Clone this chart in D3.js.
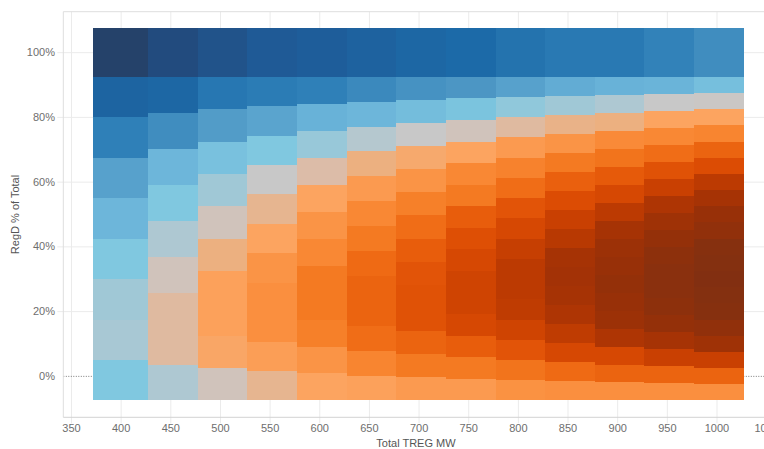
<!DOCTYPE html>
<html>
<head>
<meta charset="utf-8">
<script src="https://cdn.jsdelivr.net/npm/d3@7/dist/d3.min.js"></script>
<style>
  body { margin: 0; background: #fff; }
  text { font-family: "Liberation Sans", Arial, sans-serif; }
</style>
</head>
<body>
<div id="chart"></div>
<script>
// Total TREG MW columns; each column has RegD rows from 0 up to the total, 50 MW apart
const tregMW = [400, 450, 500, 550, 600, 650, 700, 750, 800, 850, 900, 950, 1000];
const regdStepMW = 50;

// colour value of each cell, bottom row (RegD = 0 MW) first
const score400 = [-1, -0.5, -0.6, -1, -1.8, -2.6, -4, -5.4, -8];
const score450 = [-0.4, 0.6, 0.6, 0.2, -0.4, -1, -1.8, -3.4, -5.2, -7];
const score500 = [0.2, 1.4, 1.6, 1.6, 1.0, 0.2, -0.6, -1.3, -2.8, -4.4, -6.5];
const score550 = [0.8, 1.7, 2.2, 2.2, 2.0, 1.5, 0.8, 0, -1, -2.5, -4.2, -6];
const score600 = [1.5, 2.0, 2.8, 3.0, 3.0, 2.5, 2.0, 1.5, 0.5, -0.7, -2, -4, -5.8];
const score650 = [1.6, 2.6, 3.4, 3.7, 3.7, 3.5, 3.0, 2.5, 1.8, 1.0, -0.3, -1.8, -3.6, -5.5];
const score700 = [1.8, 3.0, 3.7, 4.3, 4.3, 4.2, 3.9, 3.4, 2.8, 2.0, 1.3, 0, -1.5, -3.2, -5.2];
const score750 = [1.8, 3.0, 3.9, 4.7, 4.9, 4.9, 4.7, 4.4, 3.9, 3.0, 2.5, 1.5, 0.2, -1.2, -3, -5];
const score800 = [2.1, 3.2, 4.2, 4.9, 5.4, 5.5, 5.5, 5.2, 4.7, 4.2, 3.4, 2.7, 1.8, 0.6, -0.8, -2.6, -4.6];
const score850 = [2.2, 3.5, 4.7, 5.4, 5.9, 6.1, 6.2, 6.1, 5.6, 5.1, 4.5, 3.8, 3.0, 2.0, 0.9, -0.6, -2.2, -4.3];
const score900 = [2.2, 3.7, 4.7, 5.9, 6.4, 6.5, 6.6, 6.5, 6.4, 6.1, 5.5, 4.7, 4.0, 3.2, 2.4, 1.0, -0.4, -2.0, -4.3];
const score950 = [2.2, 3.7, 5.1, 6.1, 6.6, 6.8, 6.9, 6.9, 6.8, 6.6, 6.3, 5.9, 5.1, 4.3, 3.4, 2.5, 1.5, 0, -1.9, -3.9];
const score1000 = [2.2, 3.7, 5.1, 6.3, 6.7, 7.0, 7.1, 7.2, 7.1, 7.0, 6.7, 6.5, 6.1, 5.5, 4.5, 3.7, 2.6, 1.5, 0.05, -1.4, -3.4];
const scores = [score400, score450, score500, score550, score600, score650, score700,
  score750, score800, score850, score900, score950, score1000];

const xTicks = [350, 400, 450, 500, 550, 600, 650, 700, 750, 800, 850, 900, 950, 1000, 1050];
const yTicks = [0, 20, 40, 60, 80, 100];

// orange-blue diverging palette
const scoreStops = [-8, -7, -6, -5, -4, -3, -2, -1, -0.5, 0, 0.5, 1, 1.5, 2, 2.5, 3, 3.5, 4, 4.5, 5, 5.5, 6, 6.5, 7, 7.5];
const scoreColors = ["#25426a", "#224b7e", "#1f5a96", "#1c6aa8", "#2f80b8", "#4c96c4", "#68b2d8", "#80c8e0",
  "#a8c8d4", "#c8c8c8", "#dcbca8", "#ecb080", "#fca460", "#fa9446", "#f98834", "#f47a22", "#ef6a14",
  "#e65a0a", "#dc4c04", "#cc4202", "#bc3a02", "#aa3404", "#983008", "#86300f", "#7c2e14"];

const W = 764, H = 449;
const plot = { left: 63.3, right: 772.6, top: 11.7, bottom: 417.3 };
const halfW = 27.5;   // MW
const halfH = 7.6;    // % points

const svg = d3.select("#chart").append("svg")
  .attr("width", W)
  .attr("height", H);

const x = d3.scaleLinear().domain([342.25, 1056.5]).range([plot.left, plot.right]);
const y = d3.scaleLinear().domain([-12.8, 112.5]).range([plot.bottom, plot.top]);
const color = d3.scaleLinear().domain(scoreStops).range(scoreColors).clamp(true);

// grid + axes (behind marks)
const xAxis = svg.append("g")
  .attr("transform", `translate(0,${plot.bottom})`)
  .call(d3.axisBottom(x).tickValues(xTicks).tickFormat(d3.format("d"))
    .tickSize(-(plot.bottom - plot.top)).tickSizeOuter(0).tickPadding(7));
xAxis.select(".domain").remove();
xAxis.selectAll(".tick line").attr("y1", 6).attr("stroke", "#ebebeb");
xAxis.selectAll(".tick text").attr("fill", "#6e6e6e").style("font-size", "11px");

const yAxis = svg.append("g")
  .attr("transform", `translate(${plot.left},0)`)
  .call(d3.axisLeft(y).tickValues(yTicks).tickFormat(d => d + "%")
    .tickSize(-(plot.right - plot.left)).tickSizeOuter(0).tickPadding(8.3));
yAxis.select(".domain").remove();
yAxis.selectAll(".tick line").attr("x1", -6).attr("stroke", "#ebebeb");
yAxis.selectAll(".tick text").attr("fill", "#6e6e6e").style("font-size", "11px");
yAxis.selectAll(".tick").filter(d => d === 0).select("line")
  .attr("x1", 0)
  .attr("stroke", "#7a7a7a")
  .attr("stroke-dasharray", "1,1.5");

// frame
svg.append("line").attr("x1", plot.left).attr("x2", plot.right).attr("y1", plot.top).attr("y2", plot.top)
  .attr("stroke", "#dedede");
svg.append("line").attr("x1", plot.left).attr("x2", plot.left).attr("y1", plot.top).attr("y2", plot.bottom)
  .attr("stroke", "#dedede");
svg.append("line").attr("x1", plot.left).attr("x2", plot.right).attr("y1", plot.bottom).attr("y2", plot.bottom)
  .attr("stroke", "#d2d2d2");

// cells
const cells = [];
tregMW.forEach((t, i) => {
  scores[i].forEach((s, k) => {
    cells.push({ treg: t, pct: k * regdStepMW / t * 100, score: s });
  });
});
// earlier columns sit on top of later ones, higher rows on top of lower ones
cells.sort((a, b) => d3.descending(a.treg, b.treg) || d3.ascending(a.pct, b.pct));

svg.append("g")
  .selectAll("rect")
  .data(cells)
  .enter().append("rect")
    .attr("x", d => x(d.treg - halfW))
    .attr("width", d => x(d.treg + halfW) - x(d.treg - halfW))
    .attr("y", d => y(d.pct + halfH))
    .attr("height", d => y(d.pct - halfH) - y(d.pct + halfH))
    .attr("fill", d => color(d.score))
    .attr("shape-rendering", "crispEdges");

// titles
svg.append("text")
  .attr("x", 416)
  .attr("y", 447)
  .attr("text-anchor", "middle")
  .attr("fill", "#555")
  .style("font-size", "11px")
  .text("Total TREG MW");

svg.append("text")
  .attr("transform", `translate(19,${(plot.top + plot.bottom) / 2}) rotate(-90)`)
  .attr("text-anchor", "middle")
  .attr("fill", "#555")
  .style("font-size", "11px")
  .text("RegD % of Total");
</script>
</body>
</html>
